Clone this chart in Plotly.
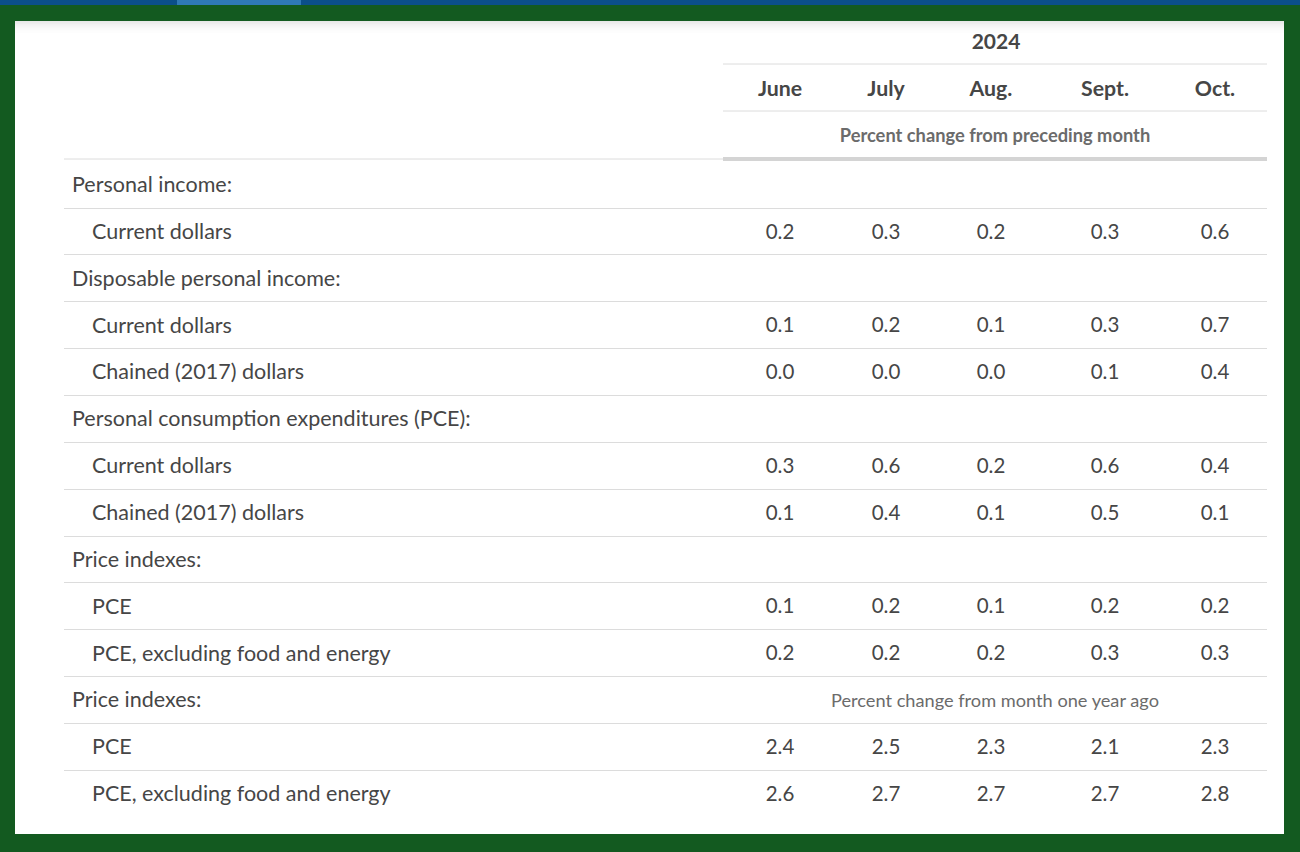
import plotly.graph_objects as go

# ---------------- data ----------------
year_label = "2024"
months = ["June", "July", "Aug.", "Sept.", "Oct."]
sub_header_1 = "Percent change from preceding month"
sub_header_2 = "Percent change from month one year ago"

row_labels = [
    "Personal income:",
    "Current dollars",
    "Disposable personal income:",
    "Current dollars",
    "Chained (2017) dollars",
    "Personal consumption expenditures (PCE):",
    "Current dollars",
    "Chained (2017) dollars",
    "Price indexes:",
    "PCE",
    "PCE, excluding food and energy",
    "Price indexes:",
    "PCE",
    "PCE, excluding food and energy",
]
row_indent = [0, 1, 0, 1, 1, 0, 1, 1, 0, 1, 1, 0, 1, 1]

june = [None, 0.2, None, 0.1, 0.0, None, 0.3, 0.1, None, 0.1, 0.2, None, 2.4, 2.6]
july = [None, 0.3, None, 0.2, 0.0, None, 0.6, 0.4, None, 0.2, 0.2, None, 2.5, 2.7]
aug = [None, 0.2, None, 0.1, 0.0, None, 0.2, 0.1, None, 0.1, 0.2, None, 2.3, 2.7]
sept = [None, 0.3, None, 0.3, 0.1, None, 0.6, 0.5, None, 0.2, 0.3, None, 2.1, 2.7]
octo = [None, 0.6, None, 0.7, 0.4, None, 0.4, 0.1, None, 0.2, 0.3, None, 2.3, 2.8]
series = [june, july, aug, sept, octo]

# ---------------- layout constants ----------------
W, H = 1300, 852
GREEN = "#135a20"
TEXT = "#464646"
GREY_TEXT = "#6b6b6b"
RULE = "#dcdcdc"
FONT = "Lato"
DY = 2.5  # text baseline nudge

col_x = [780, 886, 991, 1105, 1215]
tbl_left, tbl_right, hdr_left = 64, 1267, 723
row0_y, row_step = 184.2, 46.85
row_y = [row0_y + i * row_step for i in range(len(row_labels))]

fig = go.Figure()

# row labels
fig.add_trace(go.Scatter(
    x=[72 + 20 * ind for ind in row_indent], y=[y + DY for y in row_y], text=row_labels,
    mode="text", textposition="middle right",
    textfont=dict(family=FONT, size=21.5, color=TEXT),
    hoverinfo="skip", showlegend=False,
))

# values
for cx, vals in zip(col_x, series):
    ys = [y + DY for y, v in zip(row_y, vals) if v is not None]
    ts = [f"{v:.1f}" for v in vals if v is not None]
    fig.add_trace(go.Scatter(
        x=[cx] * len(ys), y=ys, text=ts, mode="text",
        textposition="middle center",
        textfont=dict(family=FONT, size=20.5, color=TEXT),
        hoverinfo="skip", showlegend=False,
    ))

# headers
fig.add_trace(go.Scatter(
    x=[(hdr_left + tbl_right) / 2 + 1], y=[41 + DY], text=[year_label], mode="text",
    textfont=dict(family=FONT, size=21, color=TEXT, weight="bold"),
    hoverinfo="skip", showlegend=False,
))
fig.add_trace(go.Scatter(
    x=col_x, y=[88 + DY] * len(months), text=months, mode="text",
    textfont=dict(family=FONT, size=21.3, color=TEXT, weight="bold"),
    hoverinfo="skip", showlegend=False,
))
fig.add_trace(go.Scatter(
    x=[(hdr_left + tbl_right) / 2], y=[135 + DY], text=[sub_header_1], mode="text",
    textfont=dict(family=FONT, size=18.3, color=GREY_TEXT, weight="bold"),
    hoverinfo="skip", showlegend=False,
))
fig.add_trace(go.Scatter(
    x=[(hdr_left + tbl_right) / 2], y=[row_y[11] + DY], text=[sub_header_2], mode="text",
    textfont=dict(family=FONT, size=18.2, color=GREY_TEXT),
    hoverinfo="skip", showlegend=False,
))

shapes = []
# top blue bar
shapes.append(dict(type="rect", xref="x", yref="y", x0=0, x1=W, y0=0, y1=5,
                   fillcolor="#0b4f8a", line_width=0, layer="below"))
shapes.append(dict(type="rect", xref="x", yref="y", x0=177, x1=301, y0=0, y1=5,
                   fillcolor="#2f79b6", line_width=0, layer="below"))
# white panel
shapes.append(dict(type="rect", xref="x", yref="y", x0=15, x1=1284, y0=21, y1=834,
                   fillcolor="white", line_width=0, layer="below"))
# subtle top shadow
for i, op in enumerate([0.09, 0.07, 0.055, 0.04, 0.03, 0.02, 0.012, 0.006]):
    shapes.append(dict(type="rect", xref="x", yref="y", x0=15, x1=1284,
                       y0=21 + i * 1.5, y1=22.5 + i * 1.5,
                       fillcolor=f"rgba(0,0,0,{op})", line_width=0, layer="below"))

# header rules
for y in [64, 111]:
    shapes.append(dict(type="line", xref="x", yref="y", x0=hdr_left, x1=tbl_right,
                       y0=y, y1=y, line=dict(color=RULE, width=1), layer="below"))
shapes.append(dict(type="line", xref="x", yref="y", x0=tbl_left, x1=hdr_left,
                   y0=159, y1=159, line=dict(color=RULE, width=1), layer="below"))
shapes.append(dict(type="line", xref="x", yref="y", x0=hdr_left, x1=tbl_right,
                   y0=159, y1=159, line=dict(color="#d4d4d4", width=4), layer="below"))
# body rules
for i in range(len(row_y) - 1):
    y = round((row_y[i] + row_y[i + 1]) / 2) + 0.5
    shapes.append(dict(type="line", xref="x", yref="y", x0=tbl_left, x1=tbl_right,
                       y0=y, y1=y, line=dict(color=RULE, width=1), layer="below"))

fig.update_layout(
    width=W, height=H,
    margin=dict(l=0, r=0, t=0, b=0),
    paper_bgcolor=GREEN, plot_bgcolor=GREEN,
    xaxis=dict(range=[0, W], visible=False, fixedrange=True),
    yaxis=dict(range=[H, 0], visible=False, fixedrange=True),
    shapes=shapes,
    showlegend=False,
)

fig.write_html(
    "out.html",
    config={"displayModeBar": False, "staticPlot": True},
    post_script="document.body.style.margin='0';document.body.style.background='" + GREEN + "';",
)
